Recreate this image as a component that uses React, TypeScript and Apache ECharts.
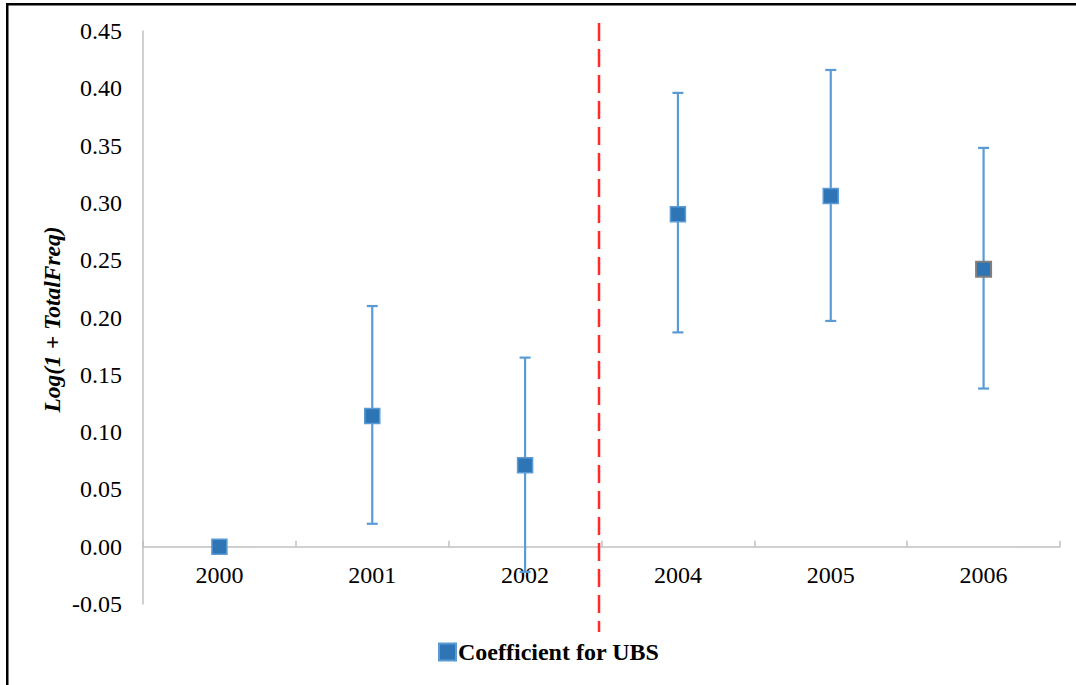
import React, { useEffect, useRef } from "react";
import * as echarts from "echarts";

// Years on the category axis
const years = ["2000", "2001", "2002", "2004", "2005", "2006"];
// Point estimates of the coefficient
const coefficient = [0, 0.114, 0.071, 0.29, 0.306, 0.242];
// Upper and lower ends of the confidence intervals (none for the base year)
const upperBound = [null, 0.21, 0.165, 0.396, 0.416, 0.348];
const lowerBound = [null, 0.02, -0.022, 0.187, 0.197, 0.138];
// Y-axis range and step
const yMin = -0.05;
const yMax = 0.45;
const yStep = 0.05;

const SERIF = "Liberation Serif";
const BAR_BLUE = "#5B9BD5";
const FILL_BLUE = "#2E75B6";

const GRID_TOP = 31;
const GRID_BOTTOM = 81;
const HEIGHT = 685;

export default function App() {
  const ref = useRef<HTMLDivElement>(null);

  useEffect(() => {
    if (!ref.current) return;
    const chart = echarts.init(ref.current, undefined, { renderer: "svg" });

    const errorData = years.map((_, i) => [i, lowerBound[i], upperBound[i]]);
    // Lift the category axis from the grid bottom up to the zero line
    const plotHeight = HEIGHT - GRID_TOP - GRID_BOTTOM;
    const zeroOffset = -plotHeight * ((0 - yMin) / (yMax - yMin));

    const labelFont = {
      fontFamily: SERIF,
      fontSize: 24,
      fontWeight: "normal",
      fontStyle: "normal",
      color: "#000",
    };

    chart.setOption({
      animation: false,
      backgroundColor: "#ffffff",
      textStyle: { fontFamily: SERIF },
      grid: { left: 143, right: 16, top: GRID_TOP, bottom: GRID_BOTTOM, containLabel: false },
      legend: {
        left: 433,
        top: 635,
        icon: "rect",
        itemWidth: 17,
        itemHeight: 17,
        itemGap: 4,
        data: ["Coefficient for UBS"],
        textStyle: {
          fontFamily: SERIF,
          fontWeight: "bold",
          fontSize: 24,
          color: "#000",
          padding: [0, 0, 0, -3],
        },
      },
      xAxis: {
        type: "category",
        data: years,
        boundaryGap: true,
        position: "bottom",
        offset: zeroOffset,
        axisLine: { onZero: false, lineStyle: { color: "#c0c0c0", width: 1.5 } },
        axisTick: { show: true, inside: true, length: 6, lineStyle: { color: "#c0c0c0", width: 1.5 } },
        axisLabel: { ...labelFont, margin: 16 },
        splitLine: { show: false },
      },
      yAxis: {
        type: "value",
        min: yMin,
        max: yMax,
        interval: yStep,
        axisLine: { show: true, lineStyle: { color: "#c0c0c0", width: 1.5 } },
        axisTick: { show: false },
        splitLine: { show: false },
        axisLabel: {
          ...labelFont,
          margin: 21,
          formatter: (v: number) => v.toFixed(2),
        },
      },
      series: [
        {
          type: "custom",
          name: "interval",
          z: 1,
          silent: true,
          data: errorData,
          renderItem: (params: any, api: any) => {
            const lo = api.value(1);
            const hi = api.value(2);
            if (lo === null || hi === null || isNaN(lo) || isNaN(hi)) return null;
            const top = api.coord([api.value(0), hi]);
            const bot = api.coord([api.value(0), lo]);
            const x = top[0];
            const cap = 5.5;
            const style = { stroke: BAR_BLUE, lineWidth: 2.2, fill: "none" };
            return {
              type: "group",
              children: [
                { type: "line", shape: { x1: x, y1: top[1], x2: x, y2: bot[1] }, style },
                { type: "line", shape: { x1: x - cap, y1: top[1], x2: x + cap, y2: top[1] }, style },
                { type: "line", shape: { x1: x - cap, y1: bot[1], x2: x + cap, y2: bot[1] }, style },
              ],
            };
          },
        },
        {
          type: "scatter",
          name: "Coefficient for UBS",
          z: 3,
          symbol: "rect",
          symbolSize: 15,
          itemStyle: { color: FILL_BLUE, borderColor: BAR_BLUE, borderWidth: 1.5, opacity: 1 },
          data: coefficient.map((v, i) =>
            i === coefficient.length - 1
              ? { value: v, itemStyle: { borderColor: "#7f7f7f", borderWidth: 2 } }
              : v
          ),
        },
      ],
    });

    // Dashed divider between the pre- and post-2003 periods, plus the frame and axis title
    const left = chart.convertToPixel({ xAxisIndex: 0 }, 2) as number;
    const right = chart.convertToPixel({ xAxisIndex: 0 }, 3) as number;
    const dividerX = (left + right) / 2 - 2.5;
    const topY = chart.convertToPixel({ yAxisIndex: 0 }, yMax) as number;
    const bottomY = chart.convertToPixel({ yAxisIndex: 0 }, yMin) as number;

    chart.setOption({
      graphic: [
        {
          type: "line",
          z: 10,
          shape: { x1: dividerX, y1: topY - 8, x2: dividerX, y2: bottomY + 28 },
          style: { stroke: "#FF2A2A", lineWidth: 2.5, lineDash: [18, 8] },
        },
        {
          type: "rect",
          z: 10,
          shape: { x: 6, y: 3, width: 1070, height: 2.5 },
          style: { fill: "#000" },
        },
        {
          type: "rect",
          z: 10,
          shape: { x: 6, y: 3, width: 2.5, height: 682 },
          style: { fill: "#000" },
        },
        {
          type: "text",
          x: 52,
          y: (topY + bottomY) / 2 + 2,
          rotation: Math.PI / 2,
          style: {
            text: "Log(1 + TotalFreq)",
            fontFamily: SERIF,
            fontStyle: "italic",
            fontWeight: "bold",
            fontSize: 23.5,
            fill: "#000",
            align: "center",
            verticalAlign: "middle",
          },
        },
      ],
    });

    return () => chart.dispose();
  }, []);

  return (
    <div
      ref={ref}
      style={{ position: "fixed", left: 0, top: 0, width: 1076, height: 685, background: "#fff" }}
    />
  );
}
